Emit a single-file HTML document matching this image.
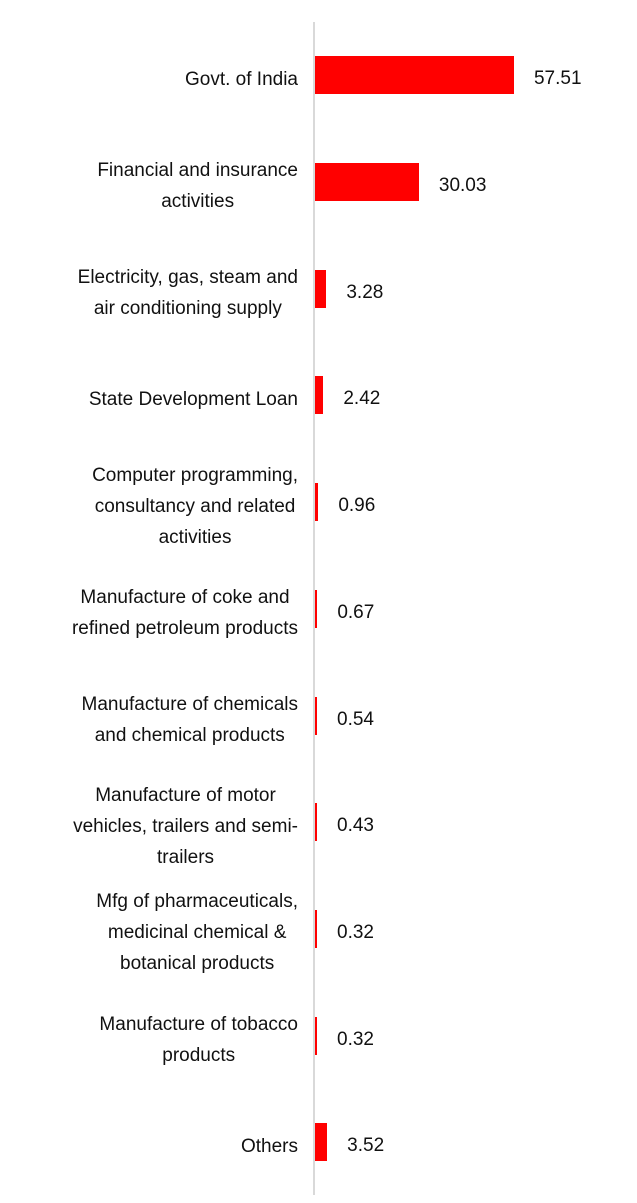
<!DOCTYPE html>
<html><head><meta charset="utf-8">
<style>
html,body{margin:0;padding:0;background:#fff;width:637px;height:1203px;overflow:hidden;font-family:"Liberation Sans",sans-serif;}
#chart{position:relative;width:637px;height:1203px;}
.axis{position:absolute;left:313px;top:22px;width:2px;height:1173px;background:#d9d9d9;}
.lab{position:absolute;right:339px;display:flex;justify-content:flex-end;align-items:center;}
.lab span{display:inline-block;text-align:center;font-size:19px;line-height:31px;color:#111;}
.bar{position:absolute;background:#ff0000;height:38px;}
.val{position:absolute;font-size:19px;color:#111;line-height:38px;}
</style></head>
<body>
<div id="chart">
<div class="axis"></div>
</div>
<script>
const categories = ["Govt. of India","Financial and insurance<br>activities","Electricity, gas, steam and<br>air conditioning supply","State Development Loan","Computer programming,<br>consultancy and related<br>activities","Manufacture of coke and<br>refined petroleum products","Manufacture of chemicals<br>and chemical products","Manufacture of motor<br>vehicles, trailers and semi-<br>trailers","Mfg of pharmaceuticals,<br>medicinal chemical &amp;<br>botanical products","Manufacture of tobacco<br>products","Others"];
const values = [57.51,30.03,3.28,2.42,0.96,0.67,0.54,0.43,0.32,0.32,3.52];
const valueLabels = ["57.51","30.03","3.28","2.42","0.96","0.67","0.54","0.43","0.32","0.32","3.52"];

const x0 = 315, pxPerUnit = 3.46, top0 = 22, band = 106.7;
function xScale(v){ return v * pxPerUnit; }
function yCenter(i){ return top0 + band*(i+0.5); }
const chart = document.getElementById('chart');
categories.forEach((c,i)=>{
  const cy = yCenter(i);
  const lab = document.createElement('div');
  
  
  lab.className='lab';
  lab.style.top=(cy-56)+'px'; lab.style.height='120px';
  lab.innerHTML='<span>'+c+'</span>';
  chart.appendChild(lab);
  const w = Math.max(2, xScale(values[i]));
  const b = document.createElement('div');
  
  
  b.className='bar';
  b.style.left=x0+'px'; b.style.top=(cy-19)+'px'; b.style.width=w+'px';
  chart.appendChild(b);
  const v = document.createElement('div');
  
  
  v.className='val';
  v.style.left=(x0+w+20)+'px'; v.style.top=(cy-15)+'px';
  v.textContent=valueLabels[i];
  chart.appendChild(v);
});
</script>
</body></html>
